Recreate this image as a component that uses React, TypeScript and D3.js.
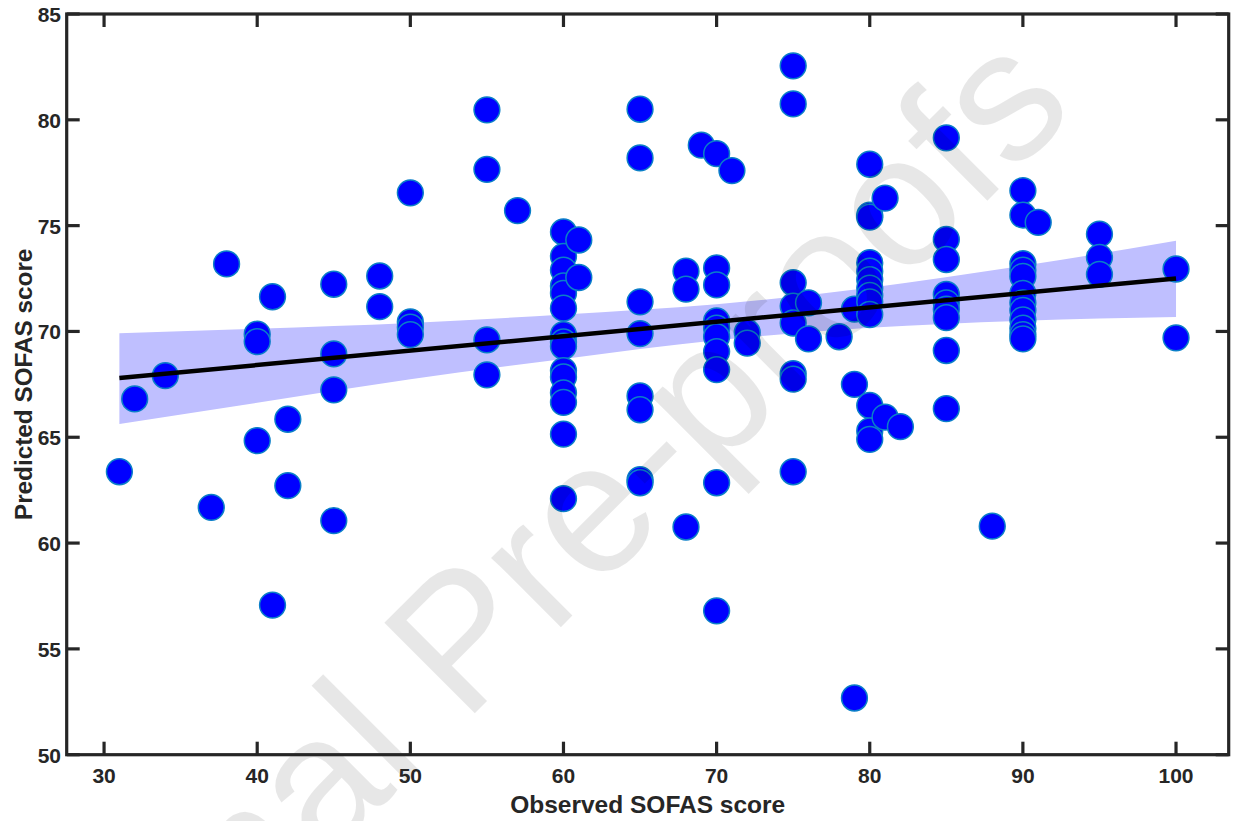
import React from "react";
import * as d3 from "d3";

// Observed SOFAS score (x) and predicted SOFAS score (y), one entry per participant
const observed: number[] = [
  31, 32, 34, 37, 38,
  40, 40, 40,
  41, 41,
  42, 42,
  45, 45, 45, 45,
  48, 48,
  50, 50, 50, 50,
  55, 55, 55, 55,
  57,
  60, 60, 60, 60, 60, 60, 60, 60, 60, 60, 60, 60, 60, 60, 60,
  61, 61,
  65, 65, 65, 65, 65, 65, 65, 65,
  68, 68, 68,
  69,
  70, 70, 70, 70, 70, 70, 70, 70, 70, 70,
  71,
  72, 72,
  75, 75, 75, 75, 75, 75, 75, 75,
  76, 76,
  78,
  79, 79, 79,
  80, 80, 80, 80, 80, 80, 80, 80, 80, 80, 80, 80, 80,
  81, 81,
  82,
  85, 85, 85, 85, 85, 85, 85, 85, 85,
  88,
  90, 90, 90, 90, 90, 90, 90, 90, 90, 90, 90, 90,
  91,
  95, 95, 95,
  100, 100,
];

const predicted: number[] = [
  63.37, 66.81, 67.91, 61.69, 73.19,
  69.87, 69.52, 64.84,
  71.64, 57.07,
  65.85, 62.71,
  72.23, 68.94, 67.24, 61.06,
  72.62, 71.17,
  76.55, 70.45, 70.2, 69.85,
  80.47, 77.66, 69.6, 67.95,
  75.71,
  74.7, 73.55, 72.9, 72.15, 71.8, 71.1, 69.85, 69.5, 69.3, 68.15, 67.85, 67.1, 66.65, 65.15, 62.1,
  74.32, 72.55,
  80.5, 78.2, 71.4, 69.9, 66.95, 66.3, 63.0, 62.85,
  72.85, 72.0, 60.76,
  78.8,
  78.4, 73.0, 72.2, 70.5, 70.15, 69.75, 69.05, 68.2, 62.85, 56.8,
  77.6,
  69.95, 69.45,
  82.55, 80.75, 72.3, 71.2, 70.4, 68.0, 67.75, 63.37,
  71.35, 69.65,
  69.75,
  71.05, 67.5, 52.68,
  77.9, 75.5, 75.4, 73.25, 72.85, 72.45, 72.05, 71.7, 71.4, 70.8, 66.5, 65.3, 64.9,
  76.3, 65.95,
  65.5,
  79.15, 74.35, 73.4, 71.75, 71.35, 71.05, 70.65, 69.1, 66.35,
  60.8,
  76.65, 75.5, 73.2, 72.9, 72.6, 71.8, 71.35, 71.0, 70.55, 70.15, 69.85, 69.65,
  75.15,
  74.6, 73.5, 72.7,
  72.95, 69.7,
];

// Regression line end points
const fitX: number[] = [31, 100];
const fitY: number[] = [67.8, 72.5];

// Confidence band
const bandX: number[] = [31, 40, 50, 60, 70, 80, 90, 100];
const bandUpper: number[] = [69.91, 70.13, 70.4, 70.8, 71.28, 72.07, 73.1, 74.28];
const bandLower: number[] = [65.63, 66.63, 67.74, 68.7, 69.58, 70.17, 70.5, 70.68];

const xTicks: number[] = [30, 40, 50, 60, 70, 80, 90, 100];
const yTicks: number[] = [50, 55, 60, 65, 70, 75, 80, 85];

const xTitle = "Observed SOFAS score";
const yTitle = "Predicted SOFAS score";
const watermarkA = "Journal";
const watermarkB = "Pre-proofs";

const W = 1240;
const H = 821;
const L = 66.7;
const R = 1228.7;
const T = 14;
const B = 754.7;

const FONT = "'Liberation Sans', Arial, Helvetica, sans-serif";
const AXIS = "#262626";

export default function App() {
  const x = d3.scaleLinear().domain([27.56, 103.44]).range([L, R]);
  const y = d3.scaleLinear().domain([50, 85]).range([B, T]);

  const bandData = bandX.map((v, i) => ({ x: v, lo: bandLower[i], hi: bandUpper[i] }));
  const area = d3
    .area<{ x: number; lo: number; hi: number }>()
    .x((d) => x(d.x))
    .y0((d) => y(d.lo))
    .y1((d) => y(d.hi))
    .curve(d3.curveMonotoneX);

  const line = d3
    .line<number>()
    .x((d) => x(d))
    .y((_, i) => y(fitY[i]));

  const pts = observed.map((o, i) => ({ o, p: predicted[i] }));
  const tickLen = 13;

  return (
    <svg
      width={W}
      height={H}
      style={{ position: "absolute", left: 0, top: 0, background: "#fff" }}
      xmlns="http://www.w3.org/2000/svg"
    >
      <rect x={0} y={0} width={W} height={H} fill="#fff" />
      <path d={area(bandData) || ""} fill="rgb(191,191,255)" stroke="none" />
      <g>
        {pts.map((d, i) => (
          <circle
            key={i}
            cx={x(d.o)}
            cy={y(d.p)}
            r={12.9}
            fill="#0000ff"
            stroke="#0a7fc8"
            strokeWidth={1.5}
          />
        ))}
      </g>
      <path d={line(fitX) || ""} fill="none" stroke="#000" strokeWidth={4.5} />

      {/* watermark */}
      <g transform="translate(464,724) rotate(-45)" fontFamily={FONT} fontSize={186} fill="#000" fillOpacity={0.095}>
        <text x={0} y={0} textAnchor="start">{watermarkB}</text>
        <text x={-52} y={0} textAnchor="end">{watermarkA}</text>
      </g>

      {/* axes box */}
      <g stroke={AXIS} strokeWidth={3.2} fill="none">
        <rect x={L} y={T} width={R - L} height={B - T} />
        {xTicks.map((t) => (
          <g key={"xt" + t}>
            <line x1={x(t)} x2={x(t)} y1={B} y2={B - tickLen} />
            <line x1={x(t)} x2={x(t)} y1={T} y2={T + tickLen} />
          </g>
        ))}
        {yTicks.map((t) => (
          <g key={"yt" + t}>
            <line x1={L} x2={L + tickLen} y1={y(t)} y2={y(t)} />
            <line x1={R} x2={R - tickLen} y1={y(t)} y2={y(t)} />
          </g>
        ))}
      </g>
      <g fontFamily={FONT} fontWeight="bold" fontSize={21} fill={AXIS}>
        {xTicks.map((t) => (
          <text key={"xl" + t} x={x(t)} y={783} textAnchor="middle">
            {t}
          </text>
        ))}
        {yTicks.map((t) => (
          <text key={"yl" + t} x={61} y={y(t) + 8} textAnchor="end">
            {t}
          </text>
        ))}
      </g>
      <text
        x={(L + R) / 2}
        y={812.5}
        textAnchor="middle"
        fontFamily={FONT}
        fontWeight="bold"
        fontSize={24.5}
        fill={AXIS}
      >
        {xTitle}
      </text>
      <text
        transform={`translate(31.7,${(T + B) / 2}) rotate(-90)`}
        textAnchor="middle"
        fontFamily={FONT}
        fontWeight="bold"
        fontSize={24.3}
        fill={AXIS}
      >
        {yTitle}
      </text>
    </svg>
  );
}
